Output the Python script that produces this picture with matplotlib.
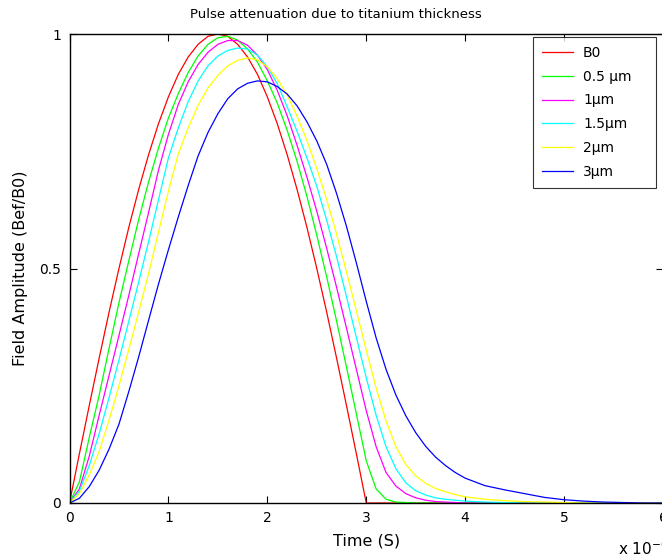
import matplotlib
matplotlib.use("Agg")
import matplotlib.pyplot as plt

plt.rcParams['font.family'] = ['DejaVu Sans']

# time grid in microseconds
t_us = [0.0, 0.1, 0.2, 0.3, 0.4, 0.5, 0.6, 0.7, 0.8, 0.9,
        1.0, 1.1, 1.2, 1.3, 1.4, 1.5, 1.6, 1.7, 1.8, 1.9,
        2.0, 2.1, 2.2, 2.3, 2.4, 2.5, 2.6, 2.7, 2.8, 2.9,
        3.0, 3.1, 3.2, 3.3, 3.4, 3.5, 3.6, 3.7, 3.8, 3.9,
        4.0, 4.2, 4.4, 4.6, 4.8, 5.0, 5.2, 5.4, 5.6, 5.8, 6.0]

b0 = [0.0, 0.105, 0.208, 0.309, 0.407, 0.5, 0.588, 0.669, 0.743, 0.809,
      0.866, 0.914, 0.951, 0.978, 0.995, 1.0, 0.995, 0.978, 0.951, 0.914,
      0.866, 0.809, 0.743, 0.669, 0.588, 0.5, 0.407, 0.309, 0.208, 0.105,
      0.0, 0.0, 0.0, 0.0, 0.0, 0.0, 0.0, 0.0, 0.0, 0.0,
      0.0, 0.0, 0.0, 0.0, 0.0, 0.0, 0.0, 0.0, 0.0, 0.0, 0.0]

ti_05 = [0.0, 0.045, 0.14, 0.23, 0.33, 0.427, 0.517, 0.605, 0.685, 0.757,
         0.821, 0.873, 0.918, 0.953, 0.978, 0.992, 0.995, 0.987, 0.968, 0.94,
         0.90, 0.853, 0.795, 0.729, 0.654, 0.571, 0.482, 0.388, 0.29, 0.19,
         0.09, 0.03, 0.008, 0.002, 0.001, 0.0, 0.0, 0.0, 0.0, 0.0,
         0.0, 0.0, 0.0, 0.0, 0.0, 0.0, 0.0, 0.0, 0.0, 0.0, 0.0]

ti_1 = [0.0, 0.03, 0.10, 0.187, 0.272, 0.357, 0.443, 0.532, 0.62, 0.71,
        0.786, 0.85, 0.898, 0.935, 0.961, 0.978, 0.986, 0.986, 0.976, 0.955,
        0.924, 0.88, 0.826, 0.763, 0.695, 0.622, 0.543, 0.46, 0.373, 0.285,
        0.197, 0.12, 0.065, 0.036, 0.02, 0.011, 0.006, 0.003, 0.002, 0.001,
        0.0, 0.0, 0.0, 0.0, 0.0, 0.0, 0.0, 0.0, 0.0, 0.0, 0.0]

ti_15 = [0.0, 0.025, 0.08, 0.148, 0.225, 0.305, 0.388, 0.472, 0.558, 0.647,
         0.736, 0.80, 0.856, 0.90, 0.932, 0.953, 0.965, 0.97, 0.968, 0.955,
         0.93, 0.894, 0.845, 0.793, 0.736, 0.675, 0.603, 0.525, 0.44, 0.353,
         0.267, 0.187, 0.12, 0.073, 0.043, 0.026, 0.017, 0.011, 0.008, 0.006,
         0.004, 0.002, 0.001, 0.0, 0.0, 0.0, 0.0, 0.0, 0.0, 0.0, 0.0]

ti_2 = [0.0, 0.02, 0.06, 0.11, 0.177, 0.25, 0.328, 0.408, 0.49, 0.578,
        0.665, 0.745, 0.80, 0.848, 0.885, 0.912, 0.932, 0.944, 0.949, 0.945,
        0.93, 0.905, 0.87, 0.825, 0.773, 0.713, 0.647, 0.573, 0.493, 0.41,
        0.326, 0.245, 0.175, 0.12, 0.082, 0.058, 0.042, 0.031, 0.024, 0.018,
        0.013, 0.008, 0.005, 0.003, 0.002, 0.001, 0.0, 0.0, 0.0, 0.0, 0.0]

ti_3 = [0.0, 0.01, 0.035, 0.07, 0.115, 0.168, 0.238, 0.312, 0.39, 0.467,
        0.54, 0.61, 0.677, 0.74, 0.79, 0.83, 0.862, 0.883, 0.895, 0.90,
        0.898, 0.888, 0.872, 0.847, 0.813, 0.772, 0.722, 0.66, 0.59, 0.512,
        0.43, 0.352, 0.285, 0.23, 0.186, 0.15, 0.121, 0.098, 0.08, 0.065,
        0.053, 0.037, 0.028, 0.02, 0.012, 0.007, 0.004, 0.002, 0.001, 0.0, 0.0]

series = [b0, ti_05, ti_1, ti_15, ti_2, ti_3]
labels = ['B0', '0.5 \u03bcm', '1\u03bcm', '1.5\u03bcm', '2\u03bcm', '3\u03bcm']
colors = ['#ff0000', '#00ff00', '#ff00ff', '#00ffff', '#ffff00', '#0000ff']

x_ticks = [0, 1, 2, 3, 4, 5, 6]
y_ticks = [0, 0.5, 1]
y_ticklabels = ['0', '0.5', '1']

fig = plt.figure(figsize=(6.62, 5.58), dpi=100)
W, H = 662.0, 558.0
x0, x1 = 69.5, 663.0
y0, y1 = 503.0, 34.0
ax = fig.add_axes([x0 / W, 1 - y0 / H, (x1 - x0) / W, (y0 - y1) / H])

for vals, lab, col in zip(series, labels, colors):
    ax.plot(t_us, vals, color=col, lw=0.9, label=lab)

ax.set_xlim(0, 6)
ax.set_ylim(0, 1)
ax.set_xticks(x_ticks)
ax.set_xticklabels([str(v) for v in x_ticks])
ax.set_yticks(y_ticks)
ax.set_yticklabels(y_ticklabels)
ax.tick_params(direction='in', length=5, width=0.8, top=True, right=True,
               labelsize=10, colors='black')
ax.tick_params(axis='x', pad=6)
ax.tick_params(axis='y', pad=6)
for s in ax.spines.values():
    s.set_linewidth(1.0)
    s.set_color('black')

ax.set_xlabel('Time (S)', fontsize=11.5, labelpad=6)
ax.set_ylabel('Field Amplitude (Bef/B0)', fontsize=11.5, labelpad=8)
fig.text(336 / W, 1 - 15 / H, 'Pulse attenuation due to titanium thickness',
         ha='center', va='center', fontsize=9.5)
fig.text(618 / W, 1 - 555 / H, 'x 10$^{-6}$', ha='left', va='baseline',
         fontsize=11)

leg_left = (533 - x0) / (x1 - x0)
leg_right = (656 - x0) / (x1 - x0)
leg_top = (y0 - 37) / (y0 - y1)
leg = ax.legend(loc='upper left',
                bbox_to_anchor=(leg_left, leg_top - 0.4, leg_right - leg_left, 0.4),
                mode='expand', fontsize=10, frameon=True, fancybox=False,
                shadow=False, handlelength=2.2, handletextpad=0.75,
                labelspacing=0.7, borderpad=0.65, borderaxespad=0.0)
leg.get_frame().set_edgecolor('black')
leg.get_frame().set_linewidth(0.8)

fig.savefig('out.png', dpi=100)
